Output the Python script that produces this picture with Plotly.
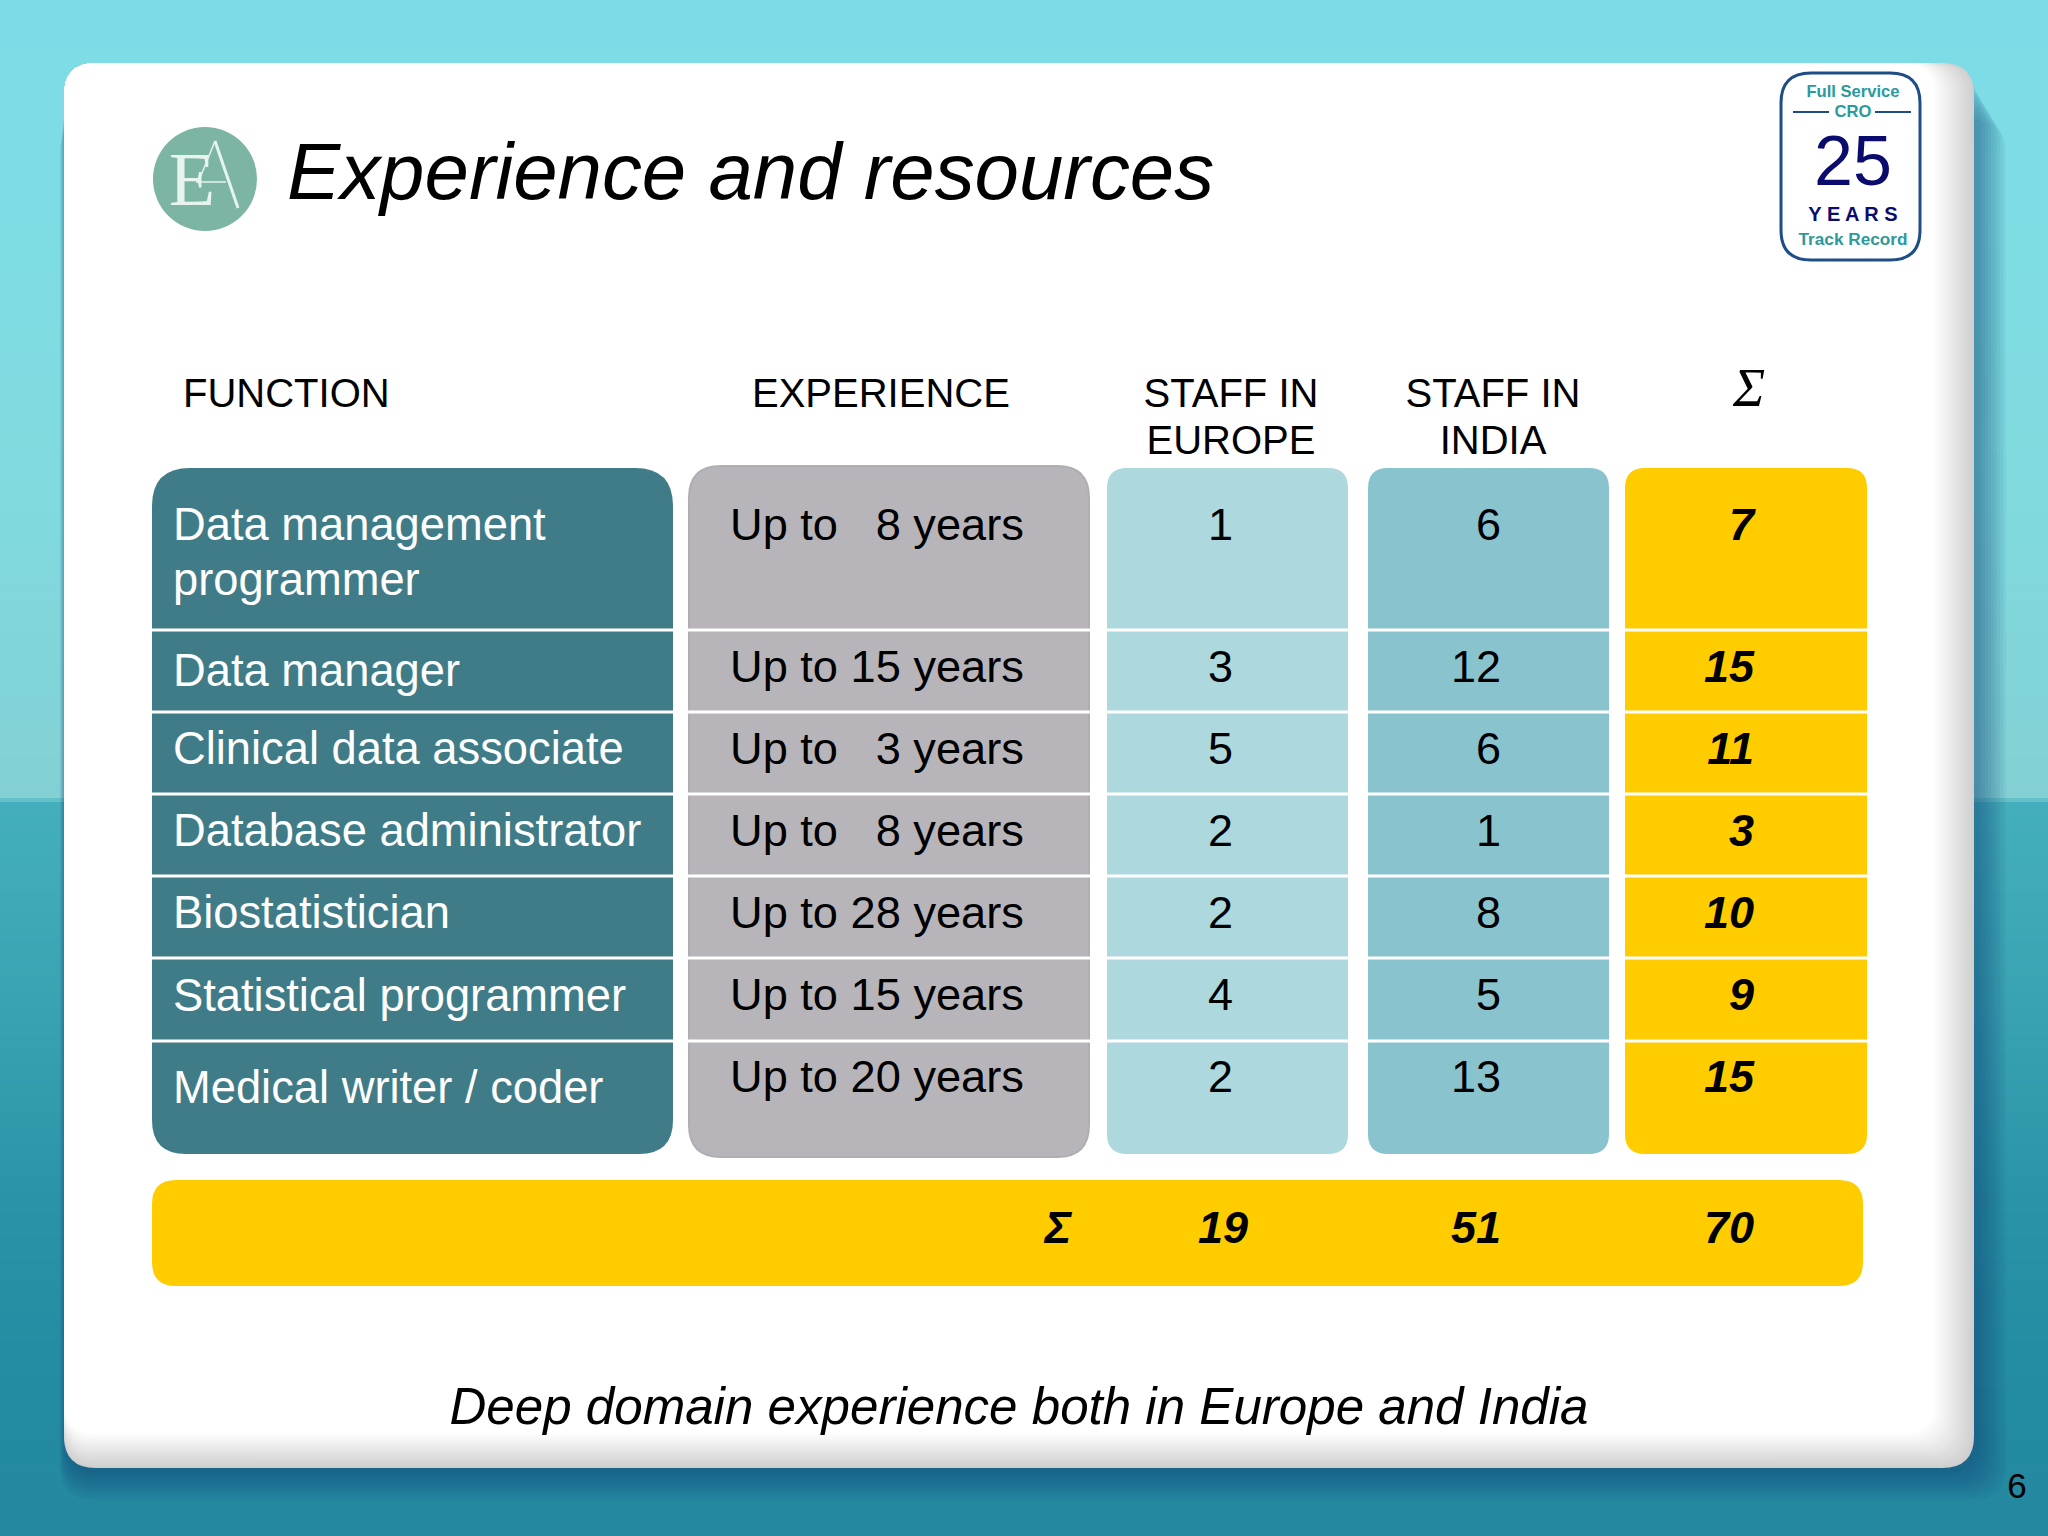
import plotly.graph_objects as go

# table values
functions = ["Data management", "programmer", "Data manager", "Clinical data associate",
             "Database administrator", "Biostatistician", "Statistical programmer",
             "Medical writer / coder"]
experience = ["Up to\u00a0\u00a0\u00a08 years", "Up to 15 years", "Up to\u00a0\u00a0\u00a03 years",
              "Up to\u00a0\u00a0\u00a08 years", "Up to 28 years", "Up to 15 years", "Up to 20 years"]
staff_europe = [1, 3, 5, 2, 2, 4, 2]
staff_india = [6, 12, 6, 1, 8, 5, 13]
staff_sum = [7, 15, 11, 3, 10, 9, 15]
totals = [19, 51, 70]

# page layout, in pixels
W, H = 2048, 1536
row_edges = [630, 712, 794, 876, 958, 1041]
func_y = [529, 584, 675, 753, 835, 917, 1000, 1092]
row_y = [529, 671, 753, 835, 917, 999, 1081]
total_y = 1232
FONT = "Liberation Sans"
SERIF = "Liberation Serif"

bg_stops = [(0, (124, 219, 230)), (200, (126, 221, 228)), (500, (128, 218, 222)),
            (798, (130, 208, 212)), (802, (68, 175, 188)), (1000, (58, 163, 179)),
            (1200, (42, 147, 166)), (1400, (35, 139, 162)), (1536, (36, 136, 160))]


def rrect(x0, y0, x1, y1, rt, rb=None):
    rb = rt if rb is None else rb
    return (f"M{x0+rt},{y0} L{x1-rt},{y0} Q{x1},{y0} {x1},{y0+rt} "
            f"L{x1},{y1-rb} Q{x1},{y1} {x1-rb},{y1} L{x0+rb},{y1} Q{x0},{y1} {x0},{y1-rb} "
            f"L{x0},{y0+rt} Q{x0},{y0} {x0+rt},{y0} Z")


shapes = []


def add_path(path, fill, line=None, width=0):
    shapes.append(dict(type="path", path=path, fillcolor=fill, layer="below",
                       line=dict(color=line or "rgba(0,0,0,0)", width=width)))


def add_line(x0, y0, x1, y1, color, width):
    shapes.append(dict(type="line", x0=x0, y0=y0, x1=x1, y1=y1, layer="below",
                       line=dict(color=color, width=width)))


# background bands
for (y0, c0), (y1, c1) in zip(bg_stops, bg_stops[1:]):
    n = max(1, (y1 - y0) // 6)
    for i in range(n):
        t = (i + 0.5) / n
        col = tuple(round(a + (b - a) * t) for a, b in zip(c0, c1))
        shapes.append(dict(type="rect", x0=0, x1=W, y0=y0 + (y1 - y0) * i / n,
                           y1=y0 + (y1 - y0) * (i + 1) / n + 1, layer="below",
                           fillcolor=f"rgb{col}", line=dict(width=0)))

# card shadow, fades out towards the top
for i in range(10, 0, -1):
    add_path(rrect(66 - i * 0.6, 70 + i * 5, 1976 + i * 3, 1470 + i * 3, 34),
             "rgba(20,70,125,0.06)")

# card with grey bevel on right and bottom edges
for i in range(14):
    g = round(208 + i * 47 / 13)
    add_path(rrect(64, 63, 1974 - i * 3, 1468 - i * 2.6, 32), f"rgb({g},{g},{g})")

# logo
shapes.append(dict(type="circle", x0=153, y0=127, x1=257, y1=231, layer="below",
                   fillcolor="#7DB5A4", line=dict(width=0)))
add_line(215, 141, 238, 208, "#E6F3EE", 3)
add_line(215, 141, 198, 183, "#E6F3EE", 1.5)
add_line(196, 182, 226, 182, "#E6F3EE", 1.5)

# badge
add_path(rrect(1781, 73, 1920, 260, 30), "#FFFFFF", "#1F4E86", 3)
add_line(1793, 112, 1829, 112, "#1F4E86", 2)
add_line(1875, 112, 1911, 112, "#1F4E86", 2)

# table columns
add_path(rrect(152, 468, 673, 1154, 38, 34), "#407C88")
add_path(rrect(689, 466, 1089, 1157, 32, 32), "#B7B5B9", "#B0AEB2", 2)
add_path(rrect(1107, 468, 1348, 1154, 20), "#ACD8DE")
add_path(rrect(1368, 468, 1609, 1154, 20), "#89C4CE")
add_path(rrect(1625, 468, 1867, 1154, 20), "#FFCC00")
add_path(rrect(152, 1180, 1863, 1286, 24), "#FFCC00")

for y in row_edges:
    for x0, x1 in [(152, 673), (687, 1091), (1107, 1348), (1368, 1609), (1625, 1867)]:
        add_line(x0, y, x1, y, "#FFFFFF", 3)

fig = go.Figure()


def add_text(xs, ys, labels, size, color="#000000", pos="middle center", family=FONT,
             style="normal", weight="normal"):
    fig.add_trace(go.Scatter(x=xs, y=ys, text=labels, mode="text", textposition=pos,
                             hoverinfo="skip", showlegend=False,
                             textfont=dict(size=size, color=color, family=family,
                                           style=style, weight=weight)))


# headings
add_text([287], [179], ["Experience and resources"], 79.8, pos="middle right", style="italic")
add_text([183, 752], [397, 397], ["FUNCTION", "EXPERIENCE"], 40, pos="middle right")
add_text([1231, 1493, 1231, 1493], [397, 397, 444, 444],
         ["STAFF IN", "STAFF IN", "EUROPE", "INDIA"], 40)
add_text([1749], [392], ["\u03a3"], 54, family=SERIF, style="italic")

# rows
add_text([173] * 8, func_y, functions, 45.3, color="#FFFFFF", pos="middle right")
add_text([730] * 7, row_y, experience, 45.2, pos="middle right")
add_text([1233] * 7, row_y, [str(v) for v in staff_europe], 45, pos="middle left")
add_text([1501] * 7, row_y, [str(v) for v in staff_india], 45, pos="middle left")
add_text([1754] * 7, row_y, [str(v) for v in staff_sum], 45, pos="middle left",
         style="italic", weight="bold")

# total bar
add_text([1058], [total_y], ["\u03a3"], 45, style="italic", weight="bold")
add_text([1248, 1501, 1754], [total_y] * 3, [str(v) for v in totals], 45, pos="middle left",
         style="italic", weight="bold")

add_text([1019], [1411], ["Deep domain experience both in Europe and India"], 51.1, style="italic")
add_text([2017], [1489], ["6"], 35)

# logo and badge texts
add_text([192], [186], ["E"], 76, color="#E6F3EE", family=SERIF)
teal = "#2A9A9C"
navy = "#0B0B6E"
add_text([1853, 1853], [93, 113], ["Full Service", "CRO"], 16.6, color=teal, weight="bold")
add_text([1853], [241], ["Track Record"], 17.2, color=teal, weight="bold")
add_text([1853], [167], ["25"], 70, color=navy)
add_text([1853], [216], ["Y E A R S"], 20, color=navy, weight="bold")

fig.update_layout(width=W, height=H, margin=dict(l=0, r=0, t=0, b=0), shapes=shapes,
                  paper_bgcolor="#FFFFFF", plot_bgcolor="rgba(0,0,0,0)",
                  xaxis=dict(range=[0, W], visible=False, fixedrange=True),
                  yaxis=dict(range=[H, 0], visible=False, fixedrange=True))

fig.write_html("out.html", config={"displayModeBar": False},
               post_script="document.body.style.margin='0';")
